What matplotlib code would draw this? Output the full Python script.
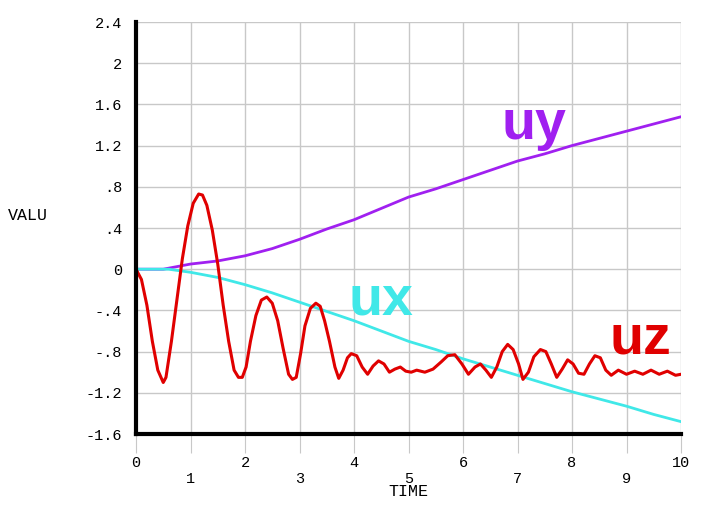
import matplotlib.pyplot as plt

plt.switch_backend("Agg")

time_uy = [0, 0.5, 1, 1.5, 2, 2.5, 3, 3.5, 4, 4.5, 5, 5.5, 6, 6.5, 7, 7.5, 8, 8.5, 9, 9.5, 10]
uy = [0, 0.0, 0.05, 0.08, 0.13, 0.2, 0.29, 0.39, 0.48, 0.59, 0.7, 0.78, 0.87, 0.96, 1.05, 1.12, 1.2, 1.27, 1.34, 1.41, 1.48]

time_ux = [0, 0.6, 1, 1.5, 2, 2.5, 3, 3.5, 4, 4.5, 5, 5.5, 6, 6.5, 7, 7.5, 8, 8.5, 9, 9.5, 10]
ux = [0, 0.0, -0.03, -0.08, -0.15, -0.23, -0.32, -0.41, -0.5, -0.6, -0.7, -0.78, -0.87, -0.95, -1.03, -1.11, -1.19, -1.26, -1.33, -1.41, -1.48]

time_uz = [0, 0.1, 0.2, 0.3, 0.4, 0.5, 0.55, 0.65, 0.75, 0.85, 0.95, 1.05, 1.15, 1.22, 1.3, 1.4, 1.5, 1.6, 1.7, 1.8, 1.88, 1.95, 2.02,
           2.1, 2.2, 2.3, 2.4, 2.5, 2.6, 2.7, 2.8, 2.87, 2.94, 3.02, 3.1, 3.2, 3.3, 3.38, 3.46, 3.55, 3.65, 3.72, 3.8, 3.88, 3.95,
           4.05, 4.15, 4.25, 4.35, 4.45, 4.55, 4.65, 4.75, 4.85, 4.95, 5.05, 5.15, 5.3, 5.45, 5.6, 5.72, 5.85, 5.98, 6.1, 6.22,
           6.32, 6.42, 6.52, 6.62, 6.72, 6.82, 6.92, 7.02, 7.1, 7.2, 7.3, 7.42, 7.52, 7.62, 7.72, 7.82, 7.92, 8.02, 8.12, 8.22,
           8.32, 8.42, 8.52, 8.62, 8.72, 8.85, 9.0, 9.15, 9.3, 9.45, 9.6, 9.75, 9.9, 10]
uz = [0, -0.1, -0.35, -0.7, -0.98, -1.1, -1.05, -0.7, -0.3, 0.1, 0.42, 0.64, 0.73, 0.72, 0.62, 0.38, 0.05, -0.35, -0.7, -0.98, -1.05, -1.05, -0.95,
      -0.7, -0.45, -0.3, -0.27, -0.33, -0.5, -0.77, -1.02, -1.07, -1.05, -0.82, -0.55, -0.38, -0.33, -0.36, -0.5, -0.7, -0.95, -1.06, -0.98, -0.86, -0.82,
      -0.84, -0.95, -1.02, -0.94, -0.89, -0.92, -1.0, -0.97, -0.95, -0.99, -1.0, -0.98, -1.0, -0.97, -0.9, -0.84, -0.83, -0.92, -1.02, -0.95,
      -0.92, -0.98, -1.05, -0.95, -0.8, -0.73, -0.78, -0.92, -1.07, -1.0, -0.85, -0.78, -0.8, -0.92, -1.05, -0.97, -0.88, -0.92, -1.01, -1.02,
      -0.92, -0.84, -0.86, -0.98, -1.03, -0.98, -1.02, -0.99, -1.02, -0.98, -1.02, -0.99, -1.03, -1.02]

PURPLE = "#a020f0"
CYAN = "#40e8e8"
RED = "#e00000"
MONO = "Liberation Mono"

fig = plt.figure(figsize=(7.2, 5.07), dpi=100)
ax = fig.add_axes([136 / 720, 1 - 434 / 507, (681 - 136) / 720, (434 - 22) / 507])

ax.plot(time_uy, uy, color=PURPLE, lw=2)
ax.plot(time_ux, ux, color=CYAN, lw=2)
ax.plot(time_uz, uz, color=RED, lw=2.2)

ax.set_xlim(0, 10)
ax.set_ylim(-1.6, 2.4)
ax.set_xticks(range(11))
ax.set_xticklabels(["0", "\n1", "2", "\n3", "4", "\n5", "6", "\n7", "8", "\n9", "10"], family=MONO, fontsize=11)
ax.set_yticks([-1.6, -1.2, -0.8, -0.4, 0, 0.4, 0.8, 1.2, 1.6, 2, 2.4])
ax.set_yticklabels(["-1.6", "-1.2", "-.8", "-.4", "0", ".4", ".8", "1.2", "1.6", "2", "2.4"], family=MONO, fontsize=11)
ax.grid(color="#c8c8c8", lw=1)
ax.tick_params(axis="x", length=14, color="#c8c8c8", pad=2)
ax.tick_params(axis="y", length=0, pad=10)
for s in ("top", "right"):
    ax.spines[s].set_visible(False)
for s in ("left", "bottom"):
    ax.spines[s].set_linewidth(3)
ax.set_xlabel("TIME", family=MONO, fontsize=12, labelpad=-2)
fig.text(8 / 720, 1 - 215 / 507, "VALU", family=MONO, fontsize=12, va="center")

ax.text(7.3, 1.4, "uy", color=PURPLE, fontsize=40, family="Liberation Sans", weight="bold", ha="center", va="center")
ax.text(4.5, -0.3, "ux", color=CYAN, fontsize=40, family="Liberation Sans", weight="bold", ha="center", va="center")
ax.text(9.25, -0.68, "uz", color=RED, fontsize=40, family="Liberation Sans", weight="bold", ha="center", va="center")

fig.savefig("out.png", dpi=100)
